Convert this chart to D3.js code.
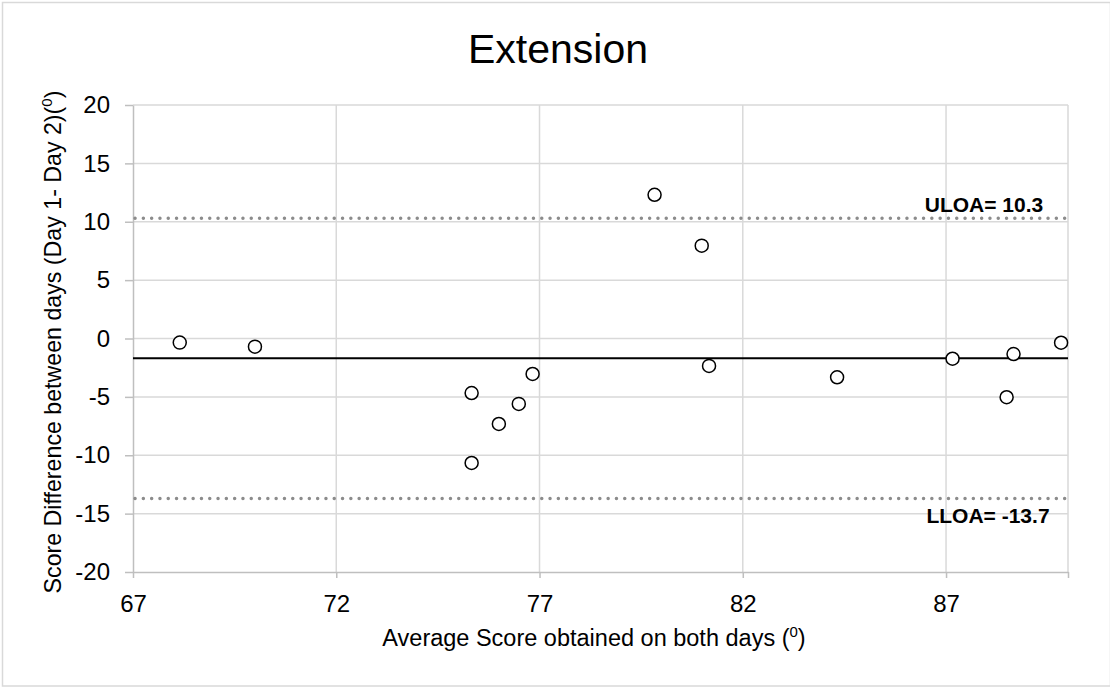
<!DOCTYPE html>
<html>
<head>
<meta charset="utf-8">
<script src="https://cdn.jsdelivr.net/npm/d3@7/dist/d3.min.js"></script>
<style>
  html, body { margin: 0; padding: 0; background: #fff; }
  svg { display: block; font-family: "Liberation Sans", Arial, sans-serif; }
</style>
</head>
<body>
<svg id="chart" width="1110" height="687"></svg>
<script>
// Bland–Altman data: mean of both days vs. difference (Day 1 - Day 2)
const avgScore = [68.15, 70.0, 75.33, 75.33, 76.0, 76.49, 76.83, 79.83, 80.99, 81.17, 84.32, 87.16, 88.66, 88.49, 89.83];
const scoreDiff = [-0.35, -0.7, -4.67, -10.66, -7.32, -5.6, -3.04, 12.31, 7.95, -2.35, -3.32, -1.73, -1.33, -5.03, -0.36];
const meanDiff = -1.7;
const upperLoa = 10.3;
const lowerLoa = -13.7;
const xTicks = [67, 72, 77, 82, 87];
const yTicks = [-20, -15, -10, -5, 0, 5, 10, 15, 20];

const svg = d3.select("#chart");
const W = 1110, H = 687;
const plot = { left: 133, right: 1068, top: 105, bottom: 572 };
const FONT = "Liberation Sans, Arial, sans-serif";

// chart area frame
svg.append("rect")
  .attr("x", 2.5).attr("y", 2.5)
  .attr("width", W - 2).attr("height", H - 3.5)
  .attr("fill", "#fff").attr("stroke", "#d9d9d9").attr("stroke-width", 1.5);

const x = d3.scaleLinear().domain([67, 90]).range([plot.left, plot.right]);
const y = d3.scaleLinear().domain([-20, 20]).range([plot.bottom, plot.top]);

// gridlines
svg.append("g")
  .selectAll("line").data(xTicks.slice(1).concat([90])).join("line")
  .attr("x1", d => x(d)).attr("x2", d => x(d))
  .attr("y1", plot.top).attr("y2", plot.bottom)
  .attr("stroke", "#d9d9d9").attr("stroke-width", 1.5);
svg.append("g")
  .selectAll("line").data(yTicks.slice(1)).join("line")
  .attr("x1", plot.left).attr("x2", plot.right)
  .attr("y1", d => y(d)).attr("y2", d => y(d))
  .attr("stroke", "#d9d9d9").attr("stroke-width", 1.5);

// y axis
const yAxis = d3.axisLeft(y).tickValues(yTicks).tickSize(8).tickPadding(15).tickSizeOuter(0)
  .tickFormat(d => String(d));
const gy = svg.append("g").attr("transform", `translate(${plot.left},0)`).call(yAxis);
gy.select(".domain").attr("stroke", "#bfbfbf").attr("stroke-width", 1.5);
gy.selectAll(".tick line").attr("stroke", "#bfbfbf").attr("stroke-width", 1.5);
gy.selectAll(".tick text").attr("font-size", 24).attr("fill", "#000").attr("font-family", FONT);

// x axis
const xAxis = d3.axisBottom(x).tickValues(xTicks.concat([90])).tickSize(6).tickPadding(17).tickSizeOuter(0)
  .tickFormat(d => xTicks.includes(d) ? String(d) : "");
const gx = svg.append("g").attr("transform", `translate(0,${plot.bottom})`).call(xAxis);
gx.select(".domain").attr("stroke", "#bfbfbf").attr("stroke-width", 1.5);
gx.selectAll(".tick line").attr("stroke", "#bfbfbf").attr("stroke-width", 1.5);
gx.selectAll(".tick text").attr("font-size", 24).attr("fill", "#000").attr("font-family", FONT);

// limits of agreement (dotted) and mean difference (solid)
[upperLoa, lowerLoa].forEach(v => {
  svg.append("line")
    .attr("x1", plot.left + 2).attr("x2", plot.right)
    .attr("y1", y(v)).attr("y2", y(v))
    .attr("stroke", "#8c8c8c").attr("stroke-width", 3.4)
    .attr("stroke-linecap", "round").attr("stroke-dasharray", "0.1 8.2");
});
svg.append("line")
  .attr("x1", plot.left).attr("x2", plot.right)
  .attr("y1", y(meanDiff)).attr("y2", y(meanDiff))
  .attr("stroke", "#000").attr("stroke-width", 2);

// points
svg.append("g").selectAll("circle").data(avgScore).join("circle")
  .attr("cx", d => x(d))
  .attr("cy", (d, i) => y(scoreDiff[i]))
  .attr("r", 6.5)
  .attr("fill", "#fff").attr("stroke", "#000").attr("stroke-width", 1.5);

// LOA labels
svg.append("text")
  .attr("x", 984).attr("y", y(upperLoa) - 6)
  .attr("text-anchor", "middle").attr("font-size", 21).attr("font-weight", "bold")
  .text(`ULOA= ${upperLoa}`);
svg.append("text")
  .attr("x", 988).attr("y", y(lowerLoa) + 25)
  .attr("text-anchor", "middle").attr("font-size", 21).attr("font-weight", "bold")
  .text(`LLOA= ${lowerLoa}`);

// title
svg.append("text")
  .attr("x", 558).attr("y", 63)
  .attr("text-anchor", "middle").attr("font-size", 41)
  .text("Extension");

// axis titles
const xt = svg.append("text")
  .attr("x", 594).attr("y", 646)
  .attr("text-anchor", "middle").attr("font-size", 23.5);
xt.append("tspan").text("Average Score obtained on both days (");
xt.append("tspan").attr("font-size", 15).attr("dy", -9).text("0");
xt.append("tspan").attr("dy", 9).text(")");

const yt = svg.append("text")
  .attr("transform", `translate(61,342) rotate(-90)`)
  .attr("text-anchor", "middle").attr("font-size", 23.2);
yt.append("tspan").text("Score Difference between days (Day 1- Day 2)(");
yt.append("tspan").attr("font-size", 15).attr("dy", -9).text("0");
yt.append("tspan").attr("dy", 9).text(")");
</script>
</body>
</html>
